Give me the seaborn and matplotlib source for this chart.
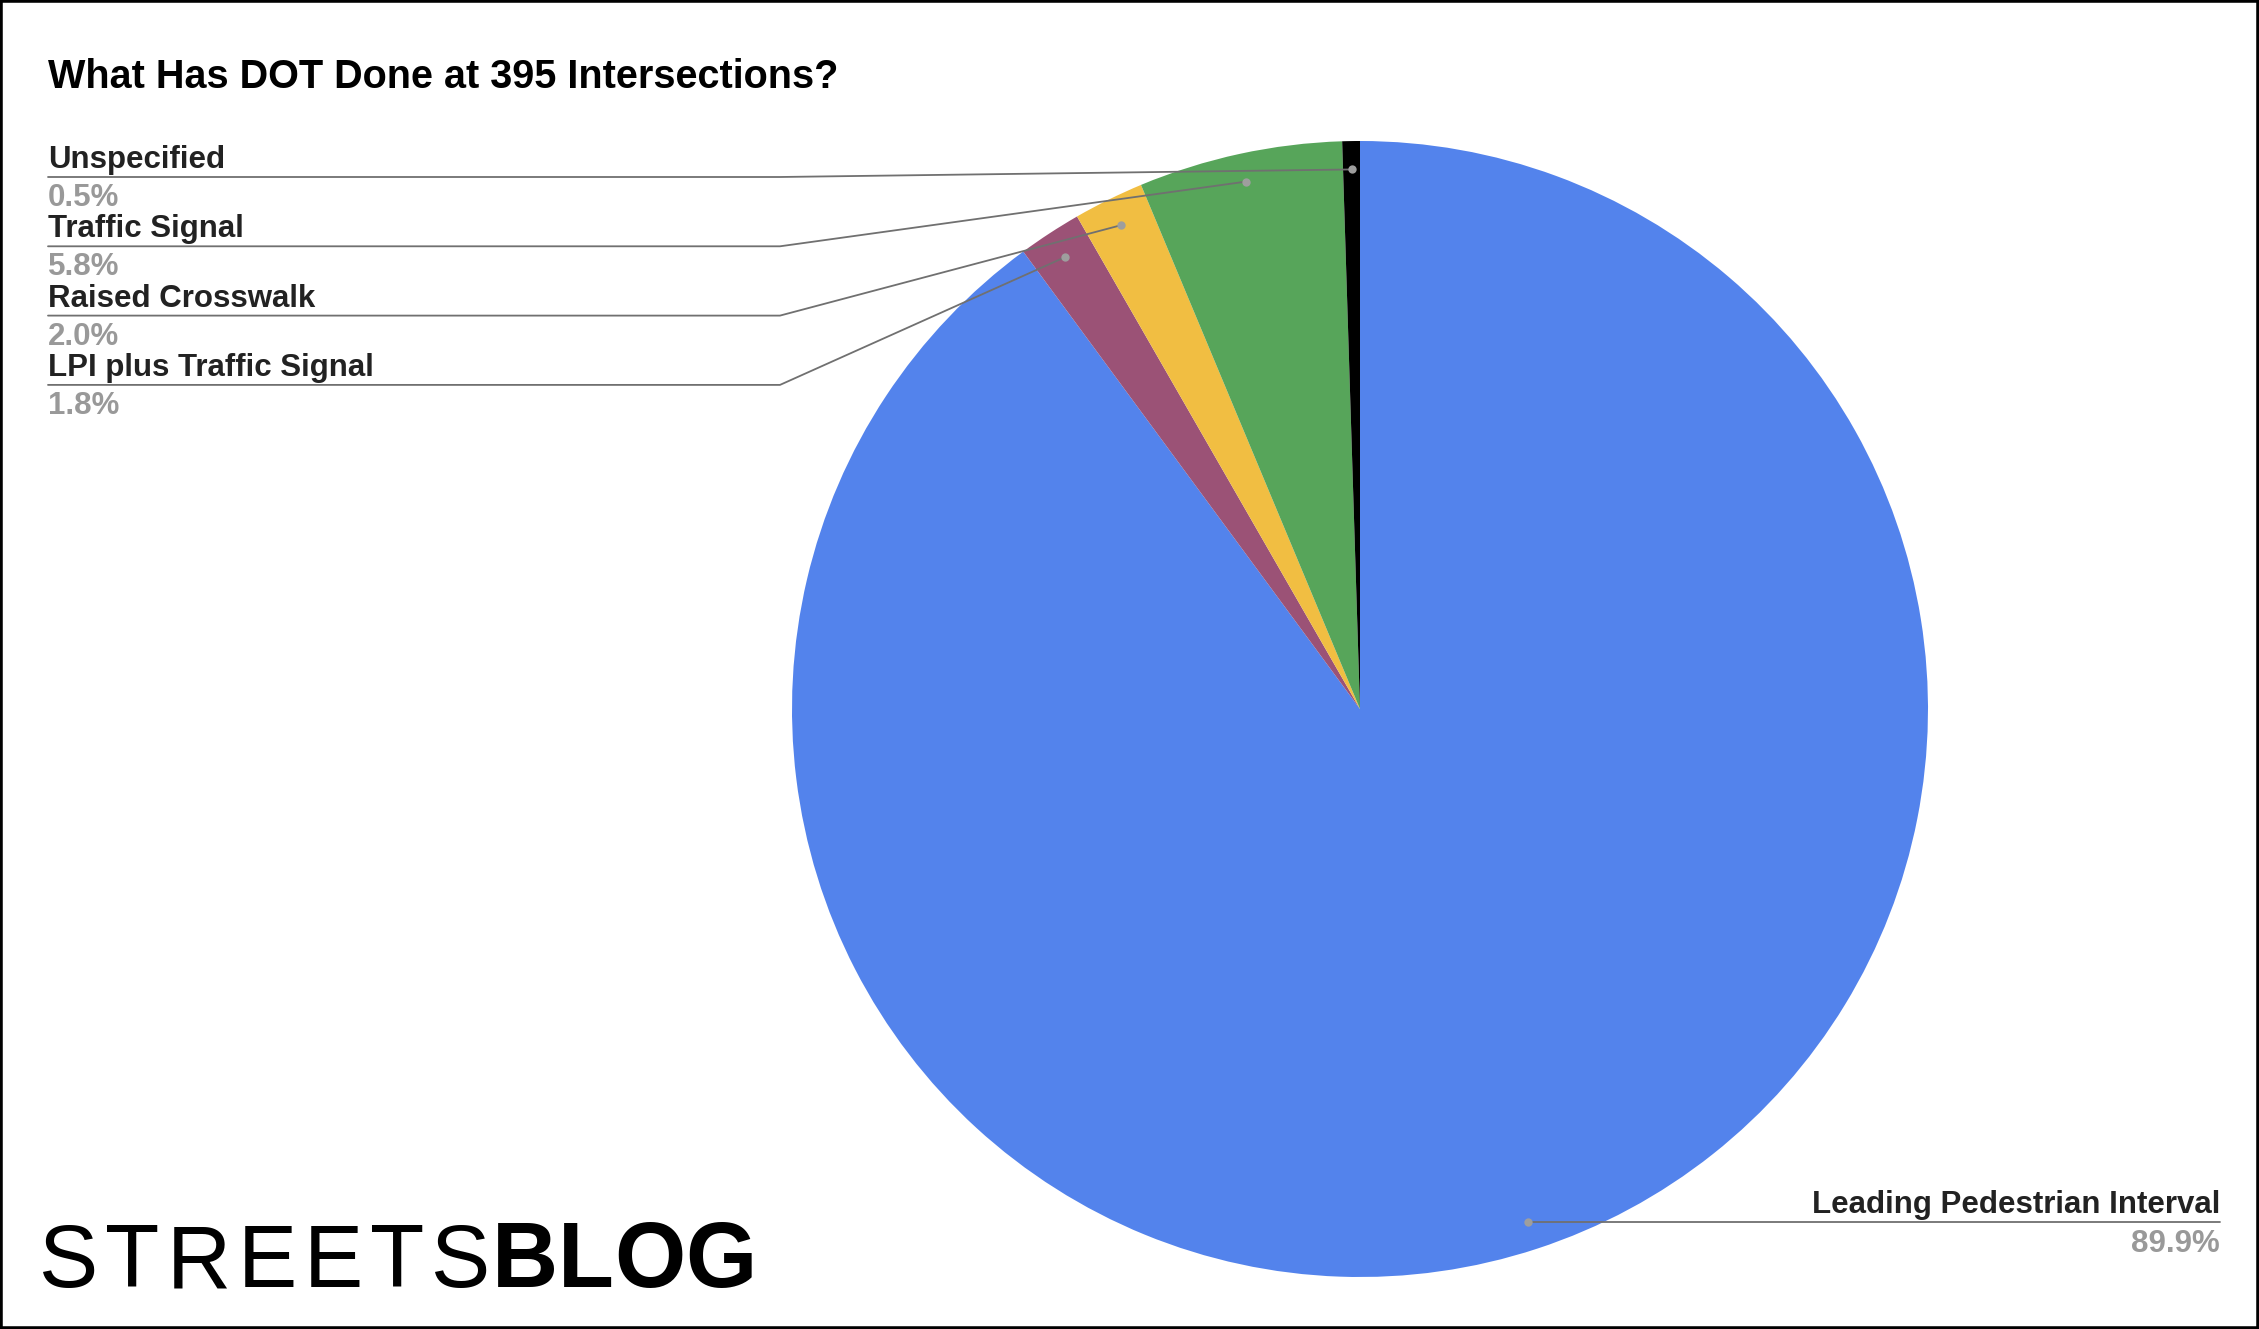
import numpy as np
import matplotlib.pyplot as plt
import seaborn as sns
from matplotlib.patches import Rectangle

# slices in drawing order, clockwise from 12 o'clock
categories = ["Leading Pedestrian Interval", "LPI plus Traffic Signal",
              "Raised Crosswalk", "Traffic Signal", "Unspecified"]
shares = [89.9, 1.8, 2.0, 5.8, 0.5]
pct_labels = ["89.9%", "1.8%", "2.0%", "5.8%", "0.5%"]
slice_colors = ["#5383EC", "#9B5276", "#F1BE42", "#57A55A", "#000000"]

title = "What Has DOT Done at 395 Intersections?"
logo_light = "STREETS"
logo_bold = "BLOG"

W, H = 2259, 1329

sns.set_theme(style="white")
plt.rcParams["font.family"] = ["Liberation Sans", "DejaVu Sans"]

fig = plt.figure(figsize=(W / 100, H / 100), dpi=100)
fig.patch.set_facecolor("white")

# pie axes, centre (1360, 709) px, radius 568 px
cx, cy, R = 1360, 709, 568
ax = fig.add_axes([(cx - R) / W, (H - cy - R) / H, 2 * R / W, 2 * R / H])
wedges, _ = ax.pie(shares, colors=sns.color_palette(slice_colors), startangle=90,
                   counterclock=False, radius=1, wedgeprops=dict(linewidth=0))
ax.set_xlim(-1, 1)
ax.set_ylim(-1, 1)
ax.set_aspect("equal")
ax.axis("off")

# overlay in pixel coords for labels / leader lines
over = fig.add_axes([0, 0, 1, 1], zorder=5)
over.set_xlim(0, W)
over.set_ylim(H, 0)
over.axis("off")
over.patch.set_alpha(0)


def anchor(w):
    a = np.deg2rad((w.theta1 + w.theta2) / 2)
    px, py = ax.transData.transform((0.95 * np.cos(a), 0.95 * np.sin(a)))
    return px, H - py


line_color = "#707070"
dot_color = "#9E9E9E"
lab_kw = dict(fontsize=22.5, fontweight="bold", color="#222222", va="baseline")
pct_kw = dict(fontsize=22.5, fontweight="bold", color="#999999", va="baseline")

left_x, elbow_x = 48, 780
for row, i in enumerate([4, 3, 2, 1]):
    y = 177 + row * 69.3
    dx, dy = anchor(wedges[i])
    over.plot([left_x, elbow_x, dx], [y, y, dy], color=line_color, lw=1.3)
    over.plot(dx, dy, "o", ms=6, color=dot_color, mec="none")
    over.text(left_x, y - 9, categories[i], **lab_kw)
    over.text(left_x, y + 29, pct_labels[i], **pct_kw)

# the big slice is labelled on the right
dx, dy = anchor(wedges[0])
right_x = 2220
over.plot([dx, right_x], [dy, dy], color=line_color, lw=1.3)
over.plot(dx, dy, "o", ms=6, color=dot_color, mec="none")
over.text(right_x, dy - 9, categories[0], ha="right", **lab_kw)
over.text(right_x, dy + 30, pct_labels[0], ha="right", **pct_kw)

over.text(48, 88, title, fontsize=28.5, fontweight="bold", color="black", va="baseline")

# logo, letters chained with a little extra tracking
prev = over.text(39, 1287, logo_light[0], fontsize=64, color="black", va="baseline")
for ch in logo_light[1:]:
    prev = over.annotate(ch, xy=(1, 0), xycoords=prev, xytext=(7, 0),
                         textcoords="offset pixels", fontsize=64, color="black", va="bottom")
for k, ch in enumerate(logo_bold):
    prev = over.annotate(ch, xy=(1, 0), xycoords=prev, xytext=(1 if k == 0 else 0, 0),
                         textcoords="offset pixels", fontsize=66, fontweight="bold",
                         color="black", va="bottom")

fig.add_artist(Rectangle((0, 0), 1, 1, transform=fig.transFigure, fill=False,
                         lw=4, edgecolor="black", zorder=10))

fig.savefig("out.png", dpi=100, facecolor="white")
